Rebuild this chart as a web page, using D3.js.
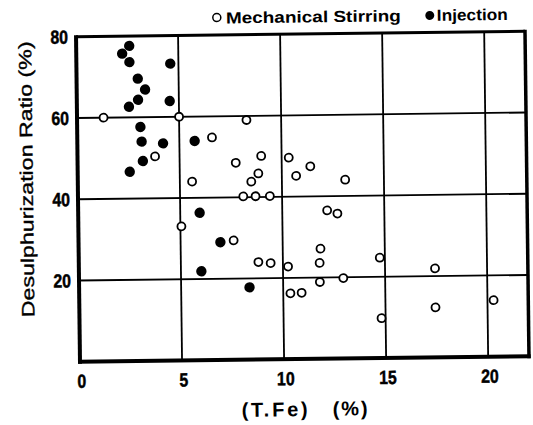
<!DOCTYPE html>
<html>
<head>
<meta charset="utf-8">
<script src="https://cdn.jsdelivr.net/npm/d3@7"></script>
<style>
  html, body { margin: 0; padding: 0; background: #fff; }
  svg { display: block; }
</style>
</head>
<body>
<svg id="chart" width="533" height="425"></svg>
<script>
// T.Fe in slag (%) vs desulphurization ratio (%)
const mechanicalTFe = [1.3, 5.0, 8.3, 6.6, 3.8, 5.6, 7.75, 9.0, 10.35, 8.85, 8.5, 10.7,
  8.1, 8.7, 9.4, 11.4, 13.1, 12.2, 12.7, 5.05, 7.6, 8.8, 9.4, 10.25, 11.85, 11.8, 11.8,
  12.95, 10.35, 10.9, 14.75, 17.45, 17.45, 20.3, 14.8];
const mechanicalRatio = [60, 60, 59, 54.8, 50.3, 44, 48.5, 50.1, 49.6, 45.8, 43.8, 45.1,
  40.2, 40.2, 40.2, 47.4, 44, 36.5, 35.7, 33, 29.4, 24, 23.7, 22.8, 27.1, 23.6, 18.9,
  19.8, 16.2, 16.3, 24.7, 21.9, 12.3, 13.9, 9.8];

const injectionTFe = [2.6, 2.25, 2.6, 4.6, 3.0, 3.35, 3.0, 4.55, 2.55, 3.1, 3.15, 4.2,
  5.75, 3.2, 2.55, 5.95, 6.95, 6.0, 8.35];
const injectionRatio = [77.6, 75.7, 73.6, 73.1, 69.5, 66.8, 64.3, 63.9, 62.6, 57.6, 54.0,
  53.5, 54.0, 49.2, 46.6, 36.3, 29.0, 21.9, 17.8];

const xTicks = [0, 5, 10, 15, 20];
const yTicks = [20, 40, 60, 80];
const legendLabels = ["Mechanical Stirring", "Injection"];
const xTitleParts = ["(T.Fe)", "(%)"];
const yTitle = "Desulphurization Ratio (%)";

const svg = d3.select("#chart");
const plotLeft = 78, plotRight = 527, plotTop = 34, plotBottom = 359;

const x = d3.scaleLinear().domain([0, 22]).range([plotLeft, plotRight]);
const y = d3.scaleLinear().domain([0, 80]).range([plotBottom, plotTop]);

// the printed figure sits slightly askew on the page
const g = svg.append("g").attr("transform", "rotate(-0.7, 302, 196.5)");

const tickFont = "'Liberation Sans', Arial, Helvetica, sans-serif";
const textFont = "'Liberation Sans', Arial, Helvetica, sans-serif";
// condensed numerals: each digit squeezed to a narrow advance
const digitWidth = 8.8;

// grid lines
g.append("g").selectAll("line")
  .data(xTicks.filter(d => d > 0))
  .join("line")
  .attr("x1", d => x(d)).attr("x2", d => x(d))
  .attr("y1", plotTop).attr("y2", plotBottom)
  .attr("stroke", "#000").attr("stroke-width", 1.8);

g.append("g").selectAll("line")
  .data(yTicks.filter(d => d < 80))
  .join("line")
  .attr("x1", plotLeft).attr("x2", plotRight)
  .attr("y1", d => y(d)).attr("y2", d => y(d))
  .attr("stroke", "#000").attr("stroke-width", 1.8);

// frame
g.append("line").attr("x1", plotLeft).attr("x2", plotRight).attr("y1", plotTop).attr("y2", plotTop)
  .attr("stroke", "#000").attr("stroke-width", 3);
g.append("line").attr("x1", plotRight).attr("x2", plotRight).attr("y1", plotTop - 1.5).attr("y2", plotBottom + 2)
  .attr("stroke", "#000").attr("stroke-width", 3.5);
g.append("line").attr("x1", plotLeft).attr("x2", plotLeft).attr("y1", plotTop - 1.5).attr("y2", plotBottom + 2)
  .attr("stroke", "#000").attr("stroke-width", 4);
g.append("line").attr("x1", plotLeft - 2).attr("x2", plotRight + 1.75).attr("y1", plotBottom).attr("y2", plotBottom)
  .attr("stroke", "#000").attr("stroke-width", 4);

// tick labels
g.append("g").selectAll("text")
  .data(xTicks)
  .join("text")
  .attr("x", d => x(d) + 1.5 - String(d).length * digitWidth / 2)
  .attr("y", 385)
  .attr("font-family", tickFont).attr("font-weight", "bold").attr("font-size", 19)
  .attr("stroke", "#000").attr("stroke-width", 0.5)
  .attr("textLength", d => String(d).length * digitWidth)
  .attr("lengthAdjust", "spacingAndGlyphs")
  .text(d => d);

g.append("g").selectAll("text")
  .data(yTicks)
  .join("text")
  .attr("x", d => 70 - String(d).length * digitWidth)
  .attr("y", d => y(d) + 6.8)
  .attr("font-family", tickFont).attr("font-weight", "bold").attr("font-size", 19)
  .attr("stroke", "#000").attr("stroke-width", 0.5)
  .attr("textLength", d => String(d).length * digitWidth)
  .attr("lengthAdjust", "spacingAndGlyphs")
  .text(d => d);

// axis titles
g.append("text")
  .attr("x", 239).attr("y", 416)
  .attr("font-family", textFont).attr("font-weight", "bold").attr("font-size", 20)
  .attr("textLength", 66).attr("lengthAdjust", "spacing")
  .text(xTitleParts[0]);
g.append("text")
  .attr("x", 330).attr("y", 416)
  .attr("font-family", textFont).attr("font-weight", "bold").attr("font-size", 20)
  .attr("textLength", 35).attr("lengthAdjust", "spacing")
  .text(xTitleParts[1]);

g.append("text")
  .attr("transform", "translate(33, 176) rotate(-90)")
  .attr("text-anchor", "middle")
  .attr("font-family", textFont).attr("font-size", 18)
  .attr("stroke", "#000").attr("stroke-width", 0.35)
  .attr("textLength", 276).attr("lengthAdjust", "spacingAndGlyphs")
  .text(yTitle);

// data points
g.append("g").selectAll("circle")
  .data(mechanicalTFe.map((v, i) => [v, mechanicalRatio[i]]))
  .join("circle")
  .attr("cx", d => x(d[0])).attr("cy", d => y(d[1]))
  .attr("r", 4).attr("fill", "#fff").attr("stroke", "#000").attr("stroke-width", 1.8);

g.append("g").selectAll("circle")
  .data(injectionTFe.map((v, i) => [v, injectionRatio[i]]))
  .join("circle")
  .attr("cx", d => x(d[0])).attr("cy", d => y(d[1]))
  .attr("r", 5.2).attr("fill", "#000");

// legend
const legend = g.append("g");
legend.append("circle").attr("cx", 219).attr("cy", 16.5).attr("r", 4)
  .attr("fill", "#fff").attr("stroke", "#000").attr("stroke-width", 1.5);
legend.append("text").attr("x", 228).attr("y", 22.5)
  .attr("font-family", textFont).attr("font-weight", "bold").attr("font-size", 16)
  .attr("textLength", 175).attr("lengthAdjust", "spacingAndGlyphs")
  .text(legendLabels[0]);
legend.append("circle").attr("cx", 432).attr("cy", 17).attr("r", 4.5).attr("fill", "#000");
legend.append("text").attr("x", 439).attr("y", 22.5)
  .attr("font-family", textFont).attr("font-weight", "bold").attr("font-size", 16)
  .attr("textLength", 71).attr("lengthAdjust", "spacingAndGlyphs")
  .text(legendLabels[1]);
</script>
</body>
</html>
